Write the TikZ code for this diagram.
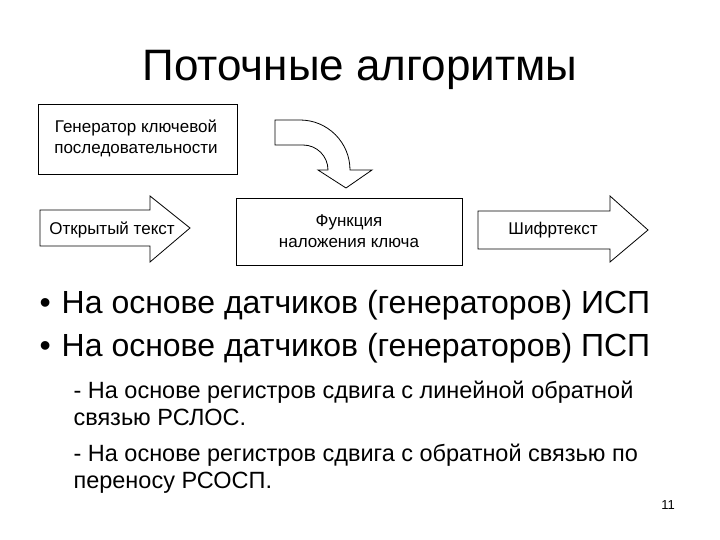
\documentclass[tikz,border=0pt]{standalone}
\usepackage{fontspec}
\setmainfont{Liberation Sans}
\begin{document}
\begin{tikzpicture}[x=1pt,y=-1pt,
 box/.style={draw,thick,fill=white,align=center,font=\fontsize{17}{21}\selectfont},
 lbl/.style={align=center,font=\fontsize{17}{21}\selectfont},
 bul/.style={anchor=west,font=\fontsize{32}{36}\selectfont},
 sub/.style={anchor=west,align=left,font=\fontsize{23.5}{27}\selectfont}]
\useasboundingbox (0,0) rectangle (720,540);
\node[font=\fontsize{44}{50}\selectfont] (title) at (360,70) {Поточные алгоритмы};
\node[draw,thick,minimum width=199pt,minimum height=70pt] (gen) at (137.5,139) {};
\node[lbl] (gent) at (136,138) {Генератор ключевой\\последовательности};
\node[box,minimum width=226pt,minimum height=67pt] (fun) at (349,231.5) {Функция\\наложения ключа};
% curved arrow
\draw[thick] (275,120) -- (300,120) arc[start angle=-90,end angle=0,radius=50] -- (350,170) -- (372,170) -- (346,188) -- (318,170) -- (328,170) arc[start angle=0,end angle=-90,radius=25] -- (275,145) -- cycle;
% open text arrow
\draw[thick] (40,210) -- (150,210) -- (150,196) -- (190,228) -- (150,262) -- (150,246) -- (40,246) -- cycle;
\node[lbl] (ot) at (112,230) {Открытый текст};
\draw[thick] (478,211) -- (610,211) -- (610,196) -- (648,230) -- (610,262) -- (610,249) -- (478,249) -- cycle;
\node[lbl] (sh) at (553,230) {Шифртекст};
\node[bul] (b1) at (36,305) {•\hspace{11pt}На основе датчиков (генераторов) ИСП};
\node[bul] (b2) at (36,348) {•\hspace{11pt}На основе датчиков (генераторов) ПСП};
\node[sub] (s1) at (70,403) {- На основе регистров сдвига с линейной обратной\\связью РСЛОС.};
\node[sub] (s2) at (70,469) {- На основе регистров сдвига с обратной связью по\\переносу РСОСП.};
\node[font=\fontsize{13}{15}\selectfont] (pg) at (668,505) {11};
\end{tikzpicture}
\end{document}
